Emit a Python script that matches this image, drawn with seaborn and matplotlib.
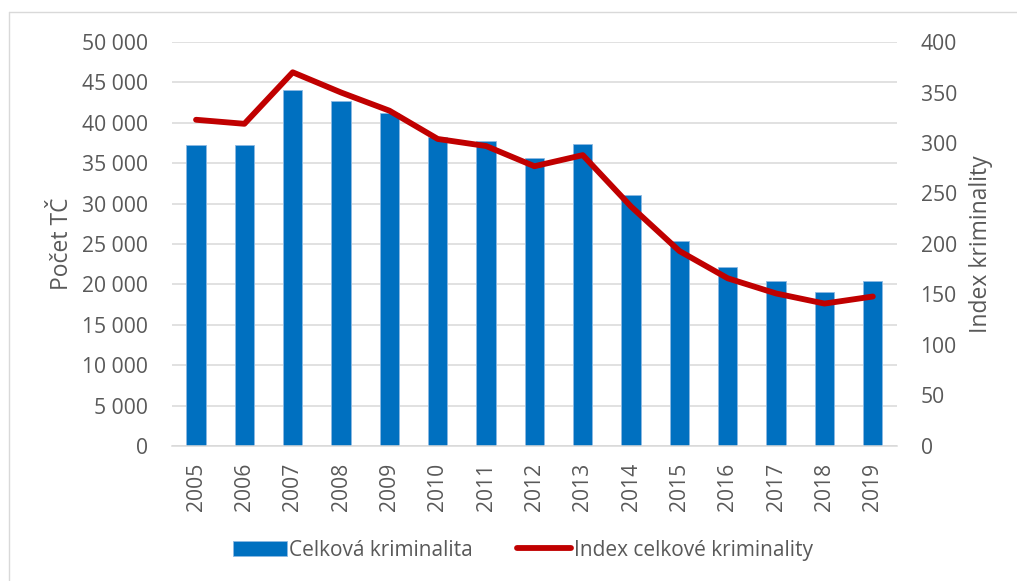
import matplotlib
matplotlib.use('Agg')
import matplotlib.pyplot as plt
from matplotlib.lines import Line2D
from matplotlib.ticker import FuncFormatter, MultipleLocator
import seaborn as sns
import pandas as pd

# data
years = ['2005', '2006', '2007', '2008', '2009', '2010', '2011', '2012',
         '2013', '2014', '2015', '2016', '2017', '2018', '2019']
crimes = [37200, 37200, 44000, 42700, 41200, 38200, 37700, 35600,
          37400, 31100, 25400, 22100, 20400, 19100, 20400]
crime_index = [323, 319, 370, 350, 332, 304, 297, 277,
               288, 237, 193, 166, 151, 141, 148]

bar_lab = 'Celková kriminalita'
line_lab = 'Index celkové kriminality'
left_lab = 'Počet TČ'
right_lab = 'Index kriminality'

df = pd.DataFrame({'year': years, 'crimes': crimes, 'index': crime_index})

sns.set_theme(style='white')
plt.rcParams['font.family'] = ['Open Sans', 'DejaVu Sans']
TXT = '#595959'
FS = 15.2

fig = plt.figure(figsize=(10.17, 5.81), dpi=100)
ax1 = fig.add_axes([0.169, 0.2324, 0.713, 0.6953])
ax2 = ax1.twinx()

sns.barplot(data=df, x='year', y='crimes', ax=ax1, color='#0070C0',
            saturation=1, width=0.4, edgecolor='#8DB9E2', linewidth=0.6,
            label=bar_lab, zorder=2)
sns.lineplot(data=df, x='year', y='index', ax=ax2, color='#C00000',
             linewidth=4.2, label=line_lab, legend=False, sort=False)

ax1.set_ylim(0, 50000)
ax2.set_ylim(0, 400)
ax1.yaxis.set_major_locator(MultipleLocator(5000))
ax2.yaxis.set_major_locator(MultipleLocator(50))
ax1.yaxis.set_major_formatter(FuncFormatter(lambda v, p: f'{int(v):,}'.replace(',', ' ')))
ax1.set_xlim(-0.5, len(years) - 0.5)

ax1.yaxis.grid(True, color='#D9D9D9', linewidth=1.1, zorder=0)
ax1.set_axisbelow(True)
for a in (ax1, ax2):
    for s in a.spines.values():
        s.set_visible(False)

ax1.spines['bottom'].set_visible(True)
ax1.spines['bottom'].set_color('#D9D9D9')
ax1.spines['bottom'].set_linewidth(1.1)

ax1.tick_params(axis='y', length=0, pad=17, labelsize=FS, labelcolor=TXT)
ax2.tick_params(axis='y', length=0, pad=17, labelsize=FS, labelcolor=TXT)
ax1.tick_params(axis='x', length=0, pad=12, labelsize=FS, labelcolor=TXT,
                labelrotation=90)

ax1.set_xlabel('')
ax1.set_ylabel(left_lab, fontsize=16.5, color=TXT, labelpad=6)
ax2.set_ylabel(right_lab, fontsize=16.5, color=TXT, labelpad=9)

h1, l1 = ax1.get_legend_handles_labels()
h2, l2 = ax2.get_legend_handles_labels()
if ax1.get_legend() is not None:
    ax1.get_legend().remove()
leg = fig.legend(h1 + h2, l1 + l2, loc='center', bbox_to_anchor=(0.514, 0.053),
                 ncol=2, frameon=False, fontsize=15, handlelength=2.6,
                 handletextpad=0.12, columnspacing=2.1)
for t in leg.get_texts():
    t.set_color(TXT)

# light chart border (top and left edges visible)
fig.add_artist(Line2D([0.0089, 1.0], [0.979, 0.979], color='#D9D9D9', lw=1,
                      transform=fig.transFigure))
fig.add_artist(Line2D([0.0089, 0.0089], [0.0, 0.979], color='#D9D9D9', lw=1,
                      transform=fig.transFigure))

fig.savefig('out.png', dpi=100)
